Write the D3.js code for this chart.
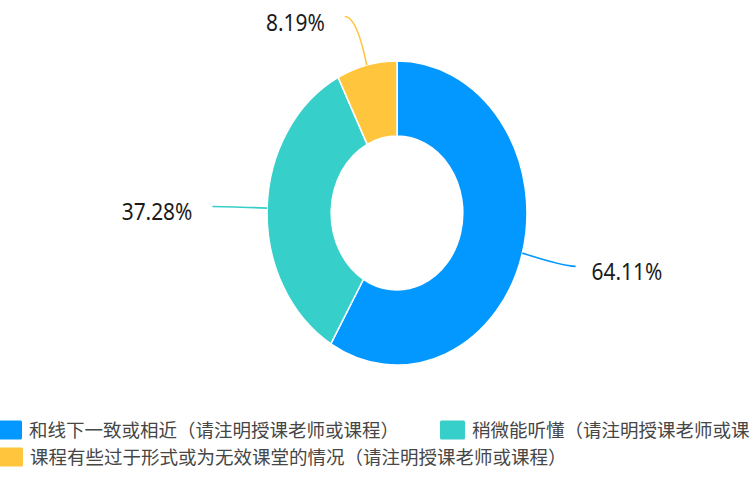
<!DOCTYPE html>
<html><head><meta charset="utf-8">
<script src="https://cdn.jsdelivr.net/npm/d3@7/dist/d3.min.js"></script>
<style>html,body{margin:0;padding:0;background:#fff;overflow:hidden}</style>
</head><body>
<svg id="c" width="750" height="496"></svg>
<script>
const categories = [
  "和线下一致或相近（请注明授课老师或课程）",
  "稍微能听懂（请注明授课老师或课程）",
  "课程有些过于形式或为无效课堂的情况（请注明授课老师或课程）"
];
const values = [64.11, 37.28, 8.19];
const colors = ["#0398ff", "#36cfc9", "#ffc53d"];
const legendRows = [0, 0, 1];

const svg = d3.select("#c");
svg.append("rect").attr("width", 750).attr("height", 496).attr("fill", "#fff");

const cx = 397, cy = 213, R = 152, r0 = 77, sx = 0.855;
const data = categories.map((c, i) => ({ c, v: values[i], color: colors[i] }));
const pie = d3.pie().value(d => d.v).sort(null);
const arcs = pie(data);
const arc = d3.arc().innerRadius(r0).outerRadius(R);

const g = svg.append("g").attr("transform", `translate(${cx},${cy}) scale(${sx},1)`);
g.selectAll("path").data(arcs).join("path")
  .attr("d", arc)
  .attr("fill", d => d.data.color)
  .attr("stroke", "#fff")
  .attr("stroke-width", 1.5)
  .attr("vector-effect", "non-scaling-stroke");

// labels with leader lines
const L1 = 50, L2 = 12;
const toScreen = (ang, rad) => [cx + rad * Math.sin(ang) * sx, cy - rad * Math.cos(ang)];
const lab = svg.append("g");
arcs.forEach(a => {
  const ang = (a.startAngle + a.endAngle) / 2;
  const p0 = toScreen(ang, R);
  const p1 = toScreen(ang, R + L1);
  const right = Math.sin(ang) >= 0;
  const p2 = [p1[0] + (right ? L2 : -L2), p1[1]];
  lab.append("path")
    .attr("d", `M${p0[0]},${p0[1]} Q${p1[0]},${p1[1]} ${p2[0]},${p2[1]}`)
    .attr("fill", "none")
    .attr("stroke", a.data.color)
    .attr("stroke-width", 1.6);
  const tx = p2[0] + (right ? 16 : -20);
  const ty = p2[1] + 14;
  lab.append("g").attr("transform", `translate(${tx},${ty}) scale(0.87,1)`)
    .append("text")
    .attr("text-anchor", right ? "start" : "end")
    .attr("font-family", "'Noto Sans', 'DejaVu Sans', sans-serif")
    .attr("font-size", 24)
    .attr("fill", "#1a1a1a")
    .text(a.data.v.toFixed(2) + "%");
});

// legend
const leg = svg.append("g");
const rowY = [430, 457];
const rowX = [-3, -2];
const iconW = 25, iconH = 19, textGap = 7, itemGap = 41;
data.forEach((d, i) => {
  const row = legendRows[i];
  const x = rowX[row];
  const y = rowY[row];
  const item = leg.append("g");
  item.append("rect")
    .attr("x", x).attr("y", y - iconH / 2)
    .attr("width", iconW).attr("height", iconH)
    .attr("rx", 1.5)
    .attr("fill", d.color);
  const t = item.append("text")
    .attr("x", x + iconW + textGap).attr("y", y)
    .attr("dy", "0.36em")
    .attr("font-family", "'Noto Sans CJK SC', 'Noto Sans', sans-serif")
    .attr("font-size", 18.5)
    .attr("fill", "#464646")
    .text(d.c);
  const w = t.node().getComputedTextLength();
  rowX[row] = x + iconW + textGap + w + itemGap;
});
</script>
</body></html>
